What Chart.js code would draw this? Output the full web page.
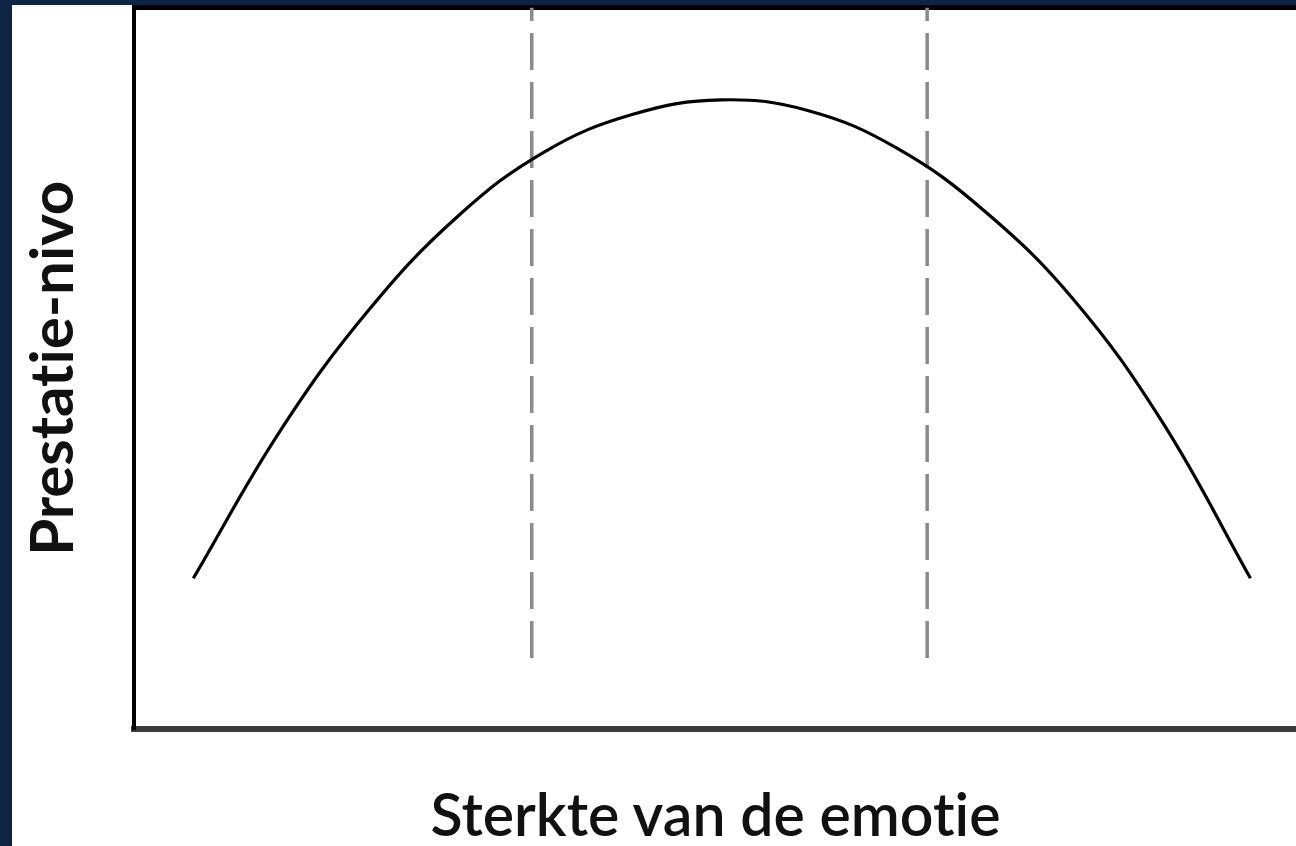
<!DOCTYPE html>
<html>
<head>
<meta charset="utf-8">
<script src="https://cdn.jsdelivr.net/npm/chart.js@4.4.1/dist/chart.umd.min.js"></script>
<style>
  html, body { margin: 0; padding: 0; width: 1296px; height: 846px; overflow: hidden; background: #0f2443; }
  #panel { position: absolute; left: 12px; top: 5px; width: 1300px; height: 841px; background: #ffffff; }
  #c { position: absolute; left: 0; top: 0; }
</style>
</head>
<body>
<div id="panel"><canvas id="c" width="1300" height="841"></canvas></div>
<script>
// Axis titles
const xTitle = "Sterkte van de emotie";
const yTitle = "Prestatie-nivo";

// Performance curve (x: emotion strength, y: performance level)
const curveX = [0.51, 1.26, 2.02, 2.78, 3.53, 4.29, 5.05, 5.80, 6.56, 7.32, 8.08, 8.84, 9.60];
const curveY = [2.09, 4.14, 5.81, 7.10, 8.00, 8.52, 8.72, 8.57, 8.05, 7.17, 5.95, 4.26, 2.09];

// Dashed vertical boundaries (x position, top and bottom y)
const dividerX = [3.42, 6.82];
const dividerTop = 10;
const dividerBottom = 0.98;

// Axis ranges
const xRange = [0, 10];
const yRange = [0, 10];

const curveData = curveX.map((x, i) => ({ x: x, y: curveY[i] }));
const dividerSets = dividerX.map(x => ({
  type: 'line',
  data: [{ x: x, y: dividerTop }, { x: x, y: dividerBottom }],
  borderColor: '#8a8a8a',
  borderWidth: 3.5,
  borderDash: [37, 12],
  borderDashOffset: 23.5,
  pointRadius: 0,
  fill: false,
  tension: 0
}));

const noLigatures = {
  id: 'noLigatures',
  beforeDraw(chart) {
    const ctx = chart.ctx;
    if ('textRendering' in ctx) ctx.textRendering = 'optimizeSpeed';
    if ('fontKerning' in ctx) ctx.fontKerning = 'normal';
  }
};

new Chart(document.getElementById('c'), {
  type: 'scatter',
  data: {
    datasets: [
      {
        type: 'line',
        data: curveData,
        borderColor: '#000000',
        borderWidth: 3.2,
        pointRadius: 0,
        fill: false,
        tension: 0.4
      },
      ...dividerSets
    ]
  },
  plugins: [noLigatures],
  options: {
    responsive: false,
    animation: false,
    events: [],
    layout: { padding: { left: 0, right: 15, top: 0, bottom: 0 } },
    plugins: { legend: { display: false }, tooltip: { enabled: false } },
    scales: {
      x: {
        type: 'linear', position: 'bottom',
        min: xRange[0], max: xRange[1],
        ticks: { display: false },
        grid: { display: false },
        border: { display: true, color: '#3a3a3a', width: 6 },
        title: {
          display: true, text: xTitle, color: '#111111',
          font: { family: 'Lato', size: 59, weight: '600', lineHeight: 1.0 },
          padding: { top: 0, bottom: 0 }
        },
        afterFit: s => { s.height = 117; }
      },
      xTop: {
        type: 'linear', position: 'top',
        min: xRange[0], max: xRange[1],
        ticks: { display: false },
        grid: { display: false },
        border: { display: true, color: '#000000', width: 5 },
        afterFit: s => { s.height = 2.5; }
      },
      y: {
        type: 'linear', position: 'left',
        min: yRange[0], max: yRange[1],
        ticks: { display: false },
        grid: { display: false },
        border: { display: true, color: '#000000', width: 4 },
        title: {
          display: true, text: yTitle, color: '#111111',
          font: { family: 'Lato', size: 60, weight: 'bold', lineHeight: 1.2 },
          padding: { top: 6, bottom: 0 }
        },
        afterFit: s => { s.width = 122; }
      }
    }
  }
});
</script>
</body>
</html>
